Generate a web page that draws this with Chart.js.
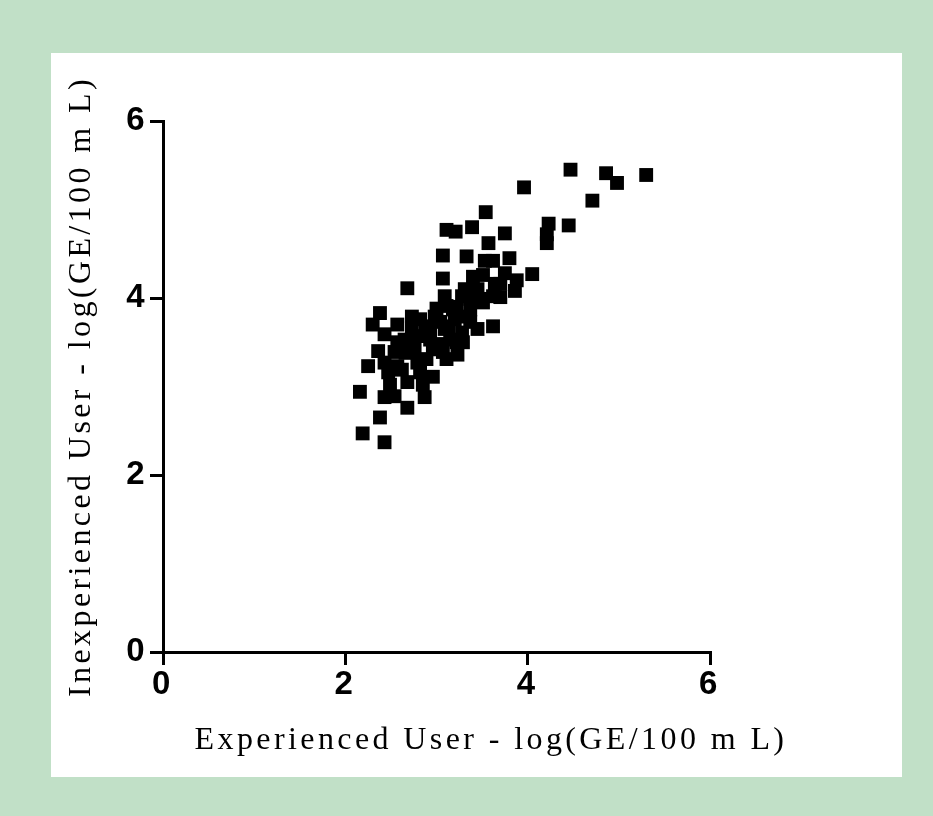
<!DOCTYPE html>
<html>
<head>
<meta charset="utf-8">
<script src="https://cdn.jsdelivr.net/npm/chart.js@4/dist/chart.umd.min.js"></script>
<style>
  html, body { margin: 0; padding: 0; }
  body { width: 933px; height: 816px; background: #c1e0c7; position: relative; overflow: hidden; }
  #panel { position: absolute; left: 51px; top: 53px; width: 851px; height: 724px; background: #fff; }
  #wrap { position: absolute; left: 51px; top: 53px; width: 880px; height: 724px; }
</style>
</head>
<body>
<div id="panel"></div>
<div id="wrap"><canvas id="chart" width="880" height="724"></canvas></div>
<script>
// log(GE/100 mL), one entry per sample
const experienced = [
  4.47, 4.86, 4.98, 5.30, 3.96, 4.71, 3.54, 4.23, 4.21, 4.21,
  4.45, 3.39, 3.11, 3.21, 3.75, 3.57, 3.07, 3.33, 3.53, 3.62,
  3.80, 3.07, 4.05, 2.68, 3.40, 3.51, 3.75, 3.88, 3.86, 3.64,
  3.62, 3.31, 3.37, 3.28, 3.09, 3.11, 3.22, 3.29, 3.62, 3.45,
  2.38, 2.30, 2.57, 2.73, 2.73, 2.98, 2.93, 3.13, 3.28, 3.29,
  3.09, 3.15, 2.57, 2.54, 2.36, 2.79, 2.76, 2.93, 2.96, 2.89,
  3.11, 3.23, 2.25, 2.43, 2.57, 2.79, 2.82, 2.62, 2.47, 2.96,
  2.49, 2.68, 2.85, 2.16, 2.43, 2.54, 2.87, 2.68, 2.38, 2.19,
  2.43, 3.45, 3.70, 3.51, 3.18, 3.37, 3.04, 3.22, 3.07, 2.82,
  2.65, 3.04, 3.20, 3.37, 3.48, 3.70, 2.43, 2.88, 3.00, 2.66
];
const inexperienced = [
  5.45, 5.41, 5.30, 5.39, 5.25, 5.10, 4.97, 4.84, 4.72, 4.62,
  4.82, 4.80, 4.77, 4.75, 4.73, 4.62, 4.48, 4.47, 4.42, 4.42,
  4.45, 4.22, 4.27, 4.11, 4.24, 4.26, 4.28, 4.20, 4.08, 4.16,
  4.02, 4.10, 3.99, 4.02, 4.02, 3.91, 3.90, 3.79, 3.68, 3.65,
  3.83, 3.70, 3.70, 3.79, 3.67, 3.79, 3.68, 3.68, 3.61, 3.50,
  3.65, 3.53, 3.50, 3.39, 3.40, 3.57, 3.42, 3.53, 3.42, 3.31,
  3.31, 3.36, 3.23, 3.27, 3.23, 3.27, 3.16, 3.19, 3.16, 3.11,
  3.02, 3.05, 3.02, 2.94, 2.88, 2.89, 2.88, 2.76, 2.65, 2.47,
  2.37, 4.10, 4.01, 3.95, 3.87, 3.73, 3.73, 3.50, 3.39, 3.76,
  3.53, 3.48, 3.76, 3.87, 3.99, 4.16, 3.59, 3.62, 3.88, 3.38
];
const tickValues = [0, 2, 4, 6];
const xTitle = 'Experienced User - log(GE/100 m L)';
const yTitle = 'Inexperienced User - log(GE/100 m L)';

const points = experienced.map((x, i) => ({ x: x, y: inexperienced[i] }));

// the axis titles in the figure are widely letter-spaced
const spacing = {
  id: 'spacing',
  beforeDraw(chart) { chart.ctx.letterSpacing = '3.4px'; }
};

const tickFont = { family: 'Liberation Sans', size: 33, weight: 'bold', lineHeight: 1 };
const titleFont = { family: 'Liberation Serif', size: 32, weight: 'normal', lineHeight: 1.125 };
const setTicks = s => { s.ticks = tickValues.map(v => ({ value: v })); };

new Chart(document.getElementById('chart'), {
  type: 'scatter',
  data: {
    datasets: [{
      data: points,
      pointStyle: 'rect',
      pointRadius: 9.8,
      pointHoverRadius: 9.8,
      backgroundColor: '#000',
      borderWidth: 0
    }]
  },
  options: {
    responsive: false,
    animation: false,
    devicePixelRatio: 1,
    layout: { padding: { top: 68, left: 0, right: 0, bottom: 0 } },
    plugins: {
      legend: { display: false },
      tooltip: { enabled: false },
      title: {
        display: true,
        position: 'bottom',
        text: xTitle,
        color: '#000',
        font: titleFont,
        padding: { top: 0, bottom: 18 }
      }
    },
    scales: {
      x: {
        type: 'linear',
        min: 0,
        max: 6,
        afterBuildTicks: setTicks,
        afterFit: s => { s.height = 71; },
        border: { color: '#000', width: 3 },
        grid: { drawOnChartArea: false, color: '#000', lineWidth: 3, tickLength: 13 },
        ticks: { color: '#000', padding: 3, font: tickFont }
      },
      y: {
        type: 'linear',
        position: 'left',
        min: 0,
        max: 6,
        afterBuildTicks: setTicks,
        afterFit: s => { s.width = 112; },
        border: { color: '#000', width: 3 },
        grid: { drawOnChartArea: false, color: '#000', lineWidth: 3, tickLength: 13 },
        ticks: { color: '#000', padding: 2, font: tickFont },
        title: {
          display: true,
          text: yTitle,
          color: '#000',
          font: titleFont,
          padding: { top: 13, bottom: 0 }
        }
      },
      // empty strip on the right so the bottom title centres like the figure
      spacer: {
        type: 'linear',
        axis: 'y',
        position: 'right',
        afterFit: s => { s.width = 221; },
        border: { display: false },
        grid: { display: false },
        ticks: { display: false }
      }
    }
  },
  plugins: [spacing]
});
</script>
</body>
</html>
